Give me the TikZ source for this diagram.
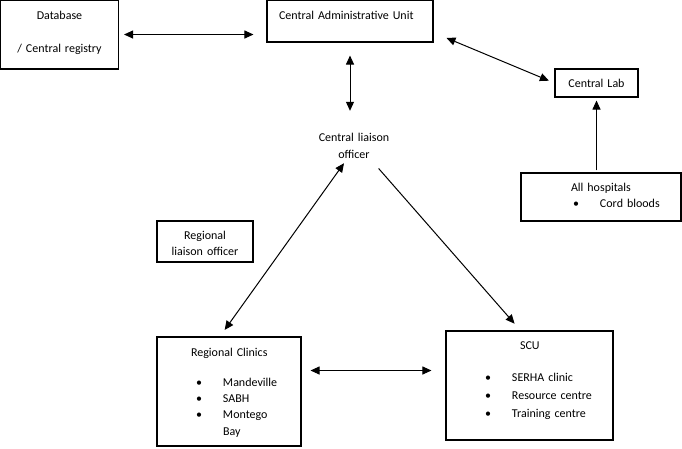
\documentclass[tikz,border=0pt]{standalone}
\usepackage{fontspec}
\setmainfont{Carlito}
\usetikzlibrary{arrows.meta}
\newcommand{\itm}[2]{\hspace*{#1}\makebox[27pt][l]{\textbullet}#2}
\begin{document}
\begin{tikzpicture}[
  x=1pt, y=-1pt,
  box/.style={draw, line width=1.1pt, rectangle, inner sep=0pt,
              font=\fontsize{12}{16}\selectfont},
  arr/.style={line width=1pt, -{Triangle[length=9pt,width=8pt]}},
  dbl/.style={line width=1pt, {Triangle[length=9pt,width=8pt]}-{Triangle[length=9pt,width=8pt]}}
]
\useasboundingbox (0,0) rectangle (682,448);
\node[box, align=center, text width=118pt, text height=19pt, text depth=50pt]
  (db)   at (59.5,34.5)  {Database\\[17pt]/ Central registry};
\node[box, align=left, text width=166pt, text height=19pt, text depth=23pt]
  (cau)  at (350,21)     {\hspace*{12pt}Central Administrative Unit};
\node[box, align=center, text width=83pt, text height=18pt, text depth=10pt]
  (lab)  at (596.5,83)   {Central Lab};
\node[box, align=left, text width=160pt, text height=18pt, text depth=30pt]
  (hosp) at (601,197)    {\hspace*{50pt}All hospitals\\ \itm{52pt}{Cord bloods}};
\node[font=\fontsize{12}{16}\selectfont, align=center, text width=100pt,
      inner sep=0pt, text height=10pt, text depth=22pt]
  (clo)  at (354,147)    {Central liaison\\[1pt]officer};
\node[box, align=center, text width=96pt, text height=18pt, text depth=23pt]
  (rlo)  at (205,241.5)  {Regional\\liaison officer};
\node[box, align=left, text width=144pt, text height=19pt, text depth=90pt]
  (rc)   at (229,391.5)  {\hspace*{34pt}Regional Clinics\\[14pt]
                          \itm{39pt}{Mandeville}\\ \itm{39pt}{SABH}\\
                          \itm{39pt}{Montego}\\[1pt] \hspace*{66pt}Bay};
\node[box, align=left, text width=167pt, text height=18pt, text depth=91pt]
  (scu)  at (529.5,385.5) {\hspace*{74pt}SCU\\[16pt]
                          \itm{39pt}{SERHA clinic}\\[2pt] \itm{39pt}{Resource centre}\\[2pt]
                          \itm{39pt}{Training centre}};
% links
\draw[dbl, shorten <=5pt, shorten >=13pt] (db.east) -- (db.east -| cau.west);
\draw[dbl, shorten <=14pt, shorten >=6pt] ([yshift=10pt]cau.south east) -- (lab.west);
\draw[dbl, shorten <=13pt, shorten >=20pt] (cau.south) -- (cau.south |- clo.north);
\draw[arr, shorten <=2pt, shorten >=3pt] (lab.south |- hosp.north) -- (lab.south);
\draw[dbl, shorten >=8pt] ([xshift=-10pt]clo.south) -- ([xshift=-9pt]rc.north);
\draw[arr, shorten <=7pt, shorten >=9pt] ([xshift=20pt]clo.south) -- ([xshift=-9pt]scu.north);
\draw[dbl, shorten <=9pt, shorten >=14pt] ([yshift=21pt]rc.east) -- ([yshift=21pt]rc.east -| scu.west);
\end{tikzpicture}
\end{document}
